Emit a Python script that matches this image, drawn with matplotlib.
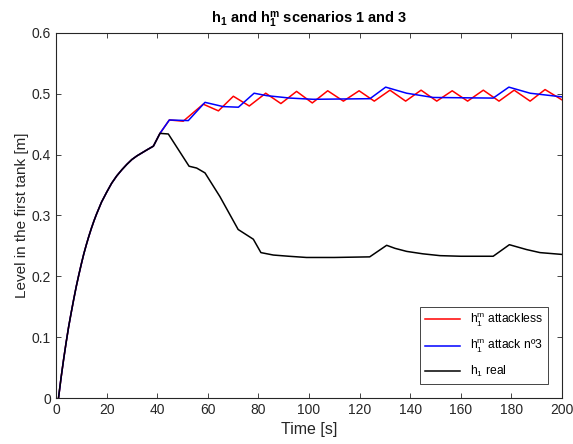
import numpy as np
import matplotlib
matplotlib.use('Agg')
import matplotlib.pyplot as plt

plt.rcParams['font.family'] = ['Liberation Sans', 'DejaVu Sans']
plt.rcParams['mathtext.fontset'] = 'custom'
plt.rcParams['mathtext.rm'] = 'Liberation Sans'
plt.rcParams['mathtext.it'] = 'Liberation Sans'
plt.rcParams['mathtext.bf'] = 'Liberation Sans:bold'

# shared filling phase (all three curves lie on top of each other)
t_rise = [1, 2, 3, 4, 5, 6, 7, 8, 9, 10, 11, 12, 13, 14, 15, 16, 18, 20,
          22, 24, 26, 28, 30, 32, 34, 36, 38.5, 41.1]
h_rise = [0, 0.033, 0.063, 0.091, 0.117, 0.140, 0.162, 0.183, 0.202, 0.220,
          0.237, 0.252, 0.266, 0.279, 0.291, 0.302, 0.322, 0.338, 0.353,
          0.365, 0.375, 0.384, 0.392, 0.398, 0.403, 0.408, 0.414, 0.435]

# h1 real
t_real = [44.4, 52.6, 55.6, 58.9, 64.8, 72, 78, 81, 85.9, 92, 99, 110, 124,
          130.7, 134, 138.6, 145, 151.8, 160, 172.8, 179.2, 186, 191.3, 200]
h_real = [0.434, 0.381, 0.378, 0.370, 0.331, 0.277, 0.261, 0.239, 0.235,
          0.233, 0.231, 0.231, 0.232, 0.251, 0.246, 0.241, 0.237, 0.234,
          0.233, 0.233, 0.252, 0.244, 0.239, 0.236]

# h1m attackless
t_free = [44.8, 50.3, 58.2, 64.2, 70.1, 76.4, 82.9, 88.9, 95.1, 101.3, 107.4,
          113.6, 119.8, 125.8, 132, 138.2, 144.3, 150.5, 156.6, 162.7, 168.9,
          175.1, 181.1, 187.4, 193.3, 200]
h_free = [0.457, 0.455, 0.483, 0.472, 0.496, 0.480, 0.501, 0.484, 0.504,
          0.485, 0.505, 0.488, 0.505, 0.488, 0.506, 0.488, 0.506, 0.488,
          0.505, 0.488, 0.506, 0.488, 0.506, 0.488, 0.507, 0.490]

# h1m attack no3
t_att = [44.8, 52.3, 58.9, 66.1, 72.1, 78.3, 83.3, 92.5, 101.7, 124.1, 130.3,
         138.6, 149.1, 172.8, 179, 187.4, 200]
h_att = [0.457, 0.456, 0.486, 0.479, 0.478, 0.501, 0.497, 0.493, 0.491,
         0.492, 0.511, 0.501, 0.494, 0.493, 0.511, 0.501, 0.495]

fig = plt.figure(figsize=(5.73, 4.44), dpi=100)
ax = fig.add_axes([0.0977, 0.1036, 0.8831, 0.8221])

ax.plot(t_rise + t_free, h_rise + h_free, color='#FF0000', lw=1.1,
        label=r'$\mathregular{h_1^m}$ attackless')
ax.plot(t_rise + t_att, h_rise + h_att, color='#0000FF', lw=1.1,
        label=r'$\mathregular{h_1^m}$ attack nº3')
ax.plot(t_rise + t_real, h_rise + h_real, color='black', lw=1.1,
        label=r'$\mathregular{h_1}$ real')

ax.set_xlim(0, 200)
ax.set_ylim(0, 0.6)
ax.set_xticks(np.arange(0, 201, 20))
ax.set_yticks(np.arange(0, 0.61, 0.1))
ax.set_yticklabels(['0', '0.1', '0.2', '0.3', '0.4', '0.5', '0.6'])

ax.tick_params(direction='in', top=True, right=True, length=3.5,
               width=0.6, labelsize=10, colors='#262626')
for s in ax.spines.values():
    s.set_color('#262626')
    s.set_linewidth(0.8)

ax.set_xlabel('Time [s]', fontsize=11.5, color='#262626', labelpad=4)
ax.set_ylabel('Level in the first tank [m]', fontsize=11, color='#262626',
              labelpad=2)
ax.set_title(r'$\mathbf{h_1}$ and $\mathbf{h_1^m}$ scenarios 1 and 3',
             fontsize=10.5, fontweight='bold', pad=7)

leg = ax.legend(loc='lower right', bbox_to_anchor=(0.972, 0.0375),
                borderaxespad=0, fontsize=8.7, handlelength=2.9,
                labelspacing=0.75, fancybox=False, framealpha=1,
                edgecolor='#262626')
leg.get_frame().set_linewidth(0.6)

fig.savefig('out.png', dpi=100)
